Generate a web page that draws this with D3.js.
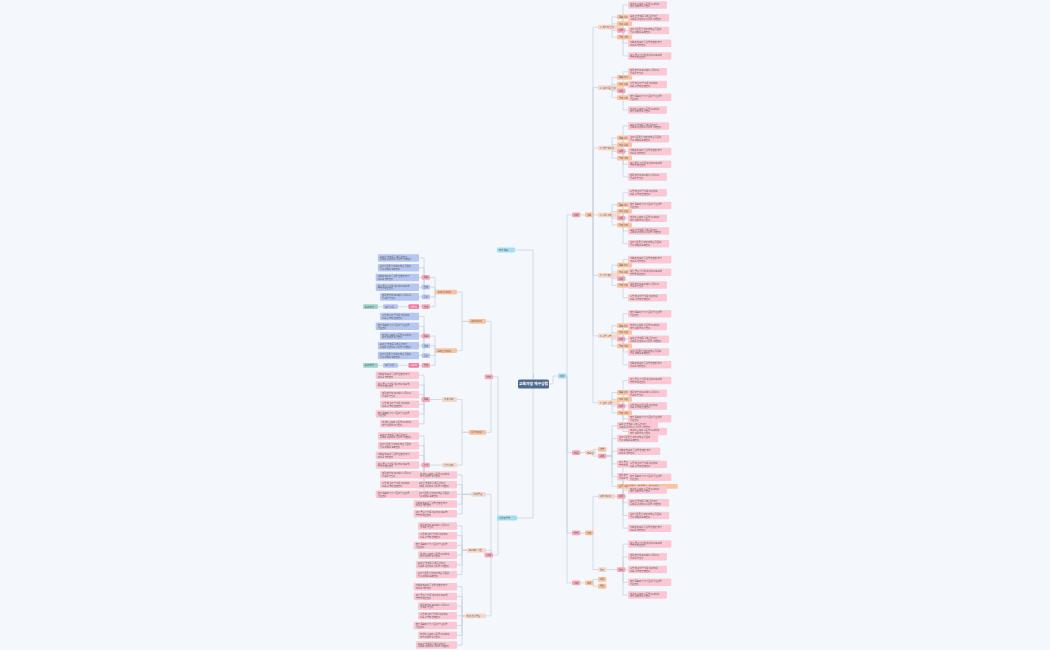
<!DOCTYPE html><html><head><meta charset="utf-8">
<script src="https://cdn.jsdelivr.net/npm/d3@7"></script>
<style>body{margin:0;background:#f4f8fc}svg{display:block}</style></head><body>
<svg id="c" width="1050" height="650"></svg>
<script>
const rootLabel = "교육과정 재구성법";
const sectionsA = ["1. 학습자 분석","2. 성취기준 분석","3. 개념 재구성","4. 활동 설계","5. 평가 계획","6. 수업 실행","7. 성찰·환류"];
const tagsTop = ["목표 설정","자료 수집"];
const tagsBottom = ["결과 정리"];
const longTexts = [
 "학생의 흥미와 수준을 고려하여 학습 내용을 조정한다",
 "교과 간 연계를 통해 통합적인 주제를 구성하고 활동을 설계한다",
 "성취기준을 분석하여 핵심 질문과 탐구 과제를 도출한다",
 "지역과 학교의 특성을 반영한 학습 자료를 개발한다",
 "과정 중심 평가를 계획하고 피드백 방법을 마련한다",
 "협력 학습과 프로젝트 활동으로 참여를 높인다",
 "수업 후 성찰 일지를 작성하여 다음 수업에 반영한다",
 "학습 목표와 평가 기준의 일관성을 점검한다"
];
const leftGroups1 = ["교과 내 재구성","교과 간 재구성"];
const leftGroups2 = ["주제 중심","프로젝트 기반","학생 선택 중심"];
const blueTags = ["연계","통합","확장"];
const viewTags = ["교사 전문성","학생 중심","학교 자율"];
const counts=[5,4,5,5,4,5,5];

function N(label,type,children){return {label,type,children:children||[]};}
let k=0; const lt=()=>longTexts[(k++)%longTexts.length];
function section(name,n){
  return N(name,"sec",[...tagsTop.map(t=>N(t,"o")),
    N("내용","p",d3.range(n).map(()=>N(lt(),"pl"))),
    ...tagsBottom.map(t=>N(t,"o"))]);
}
const right = N("대상","l",[
  N("이해","p",[N("개요","o",sectionsA.map((s,i)=>section(s,counts[i])))]),
  N("필요","p",[N("필요성","sec",[N("개념","o"),N("내용","p",[...d3.range(5).map(()=>N(lt(),"pl")),N("관점: "+viewTags.join(" · "),"o")])])]),
  N("방법","p",[N("유형","o",[N("내용 재구성","sec",[N("내용","p",d3.range(6).map(()=>N(lt(),"pl")))]),
     N("절차","sec",[N("절차","p",d3.range(5).map(()=>N(lt(),"pl")))])])]),
  N("사례","p",[N("적용","o",[N("초등","o"),N("중등","o")])])
]);
function leftSec(name,n,tags){
  return N(name,"o",[N("목표","p",d3.range(n).map(()=>N(lt(),"b"))),
     ...tags.map(t=>N(t,"b")),N("연계","p",[N("활동지","m",[N("모둠 활동","b",[N("토의 학습","t")])])])]);
}
const left = N("기술과 방법","l",[
  N("방법","p",[N("교과 재구성","o",leftGroups1.map(g=>leftSec(g,5,blueTags.slice(0,2)))),
     N("통합 재구성","o",[N("설계 사례","sec",[N("목표","p",d3.range(6).map(()=>N(lt(),"pl")))]),N("평가 사례","sec",[N("평가","p",d3.range(7).map(()=>N(lt(),"pl")))])])]),
  N("사례","p",leftGroups2.map((g,i)=>N(g,"sec",d3.range(5+i).map(()=>N(lt(),"pl")))))
]);
const topLeft = N("학습 목표","l");

const fill={l:"#a6dcef",p:"#f7a8b8",o:"#f9c3a0",sec:"#f6d8c8",pl:"#fbc7d2",b:"#b6c6f0",t:"#9fd3cb",m:"#f27aa6"};
const svg=d3.select("#c");
const gL=svg.append("g"), gN=svg.append("g");
const FS=2.3;
function wrap(t,max){const w=t.split(" ");const lines=[];let c="";for(const x of w){if((c+" "+x).trim().length>max){lines.push(c);c=x}else c=(c+" "+x).trim()}if(c)lines.push(c);return lines;}
function linesOf(dt){const isLong=dt.type==="pl"||(dt.type==="b"&&dt.label.length>12);return isLong?wrap(dt.label,18):[dt.label];}
function layout(data,y0,y1,cols,dir){
  const h=d3.hierarchy(data);
  d3.tree().nodeSize([1,1]).separation((a,b)=>{
    const base=((linesOf(a.data).length+linesOf(b.data).length)/2)*0.75;
    return base+(a.parent===b.parent?0.1:0.5);})(h);
  const ext=d3.extent(h.descendants(),d=>d.x);
  const ys=d3.scaleLinear().domain(ext).range([y0,y1]);
  h.each(d=>{
    d.lines=linesOf(d.data);
    d.w=Math.max(...d.lines.map(l=>l.length))*FS*0.95+4; d.h=d.lines.length*FS*1.2+2;
    d.py=ys(d.x); d.anchor=cols[Math.min(d.depth,cols.length-1)];
    d.x0=dir>0?d.anchor:d.anchor-d.w; d.x1=d.x0+d.w;
  });
  return h;
}
function box(d){
  gN.append("rect").attr("x",d.x0).attr("y",d.py-d.h/2).attr("width",d.w).attr("height",d.h).attr("rx",1).attr("fill",fill[d.data.type]);
  d.lines.forEach((l,i)=>gN.append("text").attr("x",d.x0+2).attr("y",d.py-d.h/2+1+FS*(i+0.85)*1.2).attr("font-size",FS).attr("font-family","Noto Sans CJK KR").attr("fill",d.data.type==="m"?"#fff":"#555").text(l));
}
function link(px,py,cx,cy,dir){
  const mx=dir>0?cx-5:cx+5;
  gL.append("path").attr("d",`M${px},${py}H${mx}V${cy}H${cx}`).attr("fill","none").attr("stroke","#c9d3df").attr("stroke-width",0.8);
}
const rootX=518,rootY=384,rootW=31;
const R=layout(N("","x",[right]),5,595,[rootX+rootW,558,572,585,598,617,628,650],1);
R.py=rootY; R.x1=rootX+rootW; R.x0=rootX;
R.children[0].py=376;
R.descendants().forEach(d=>{ if(!d.parent) return; link(d.parent.x1,d.parent.py,d.x0,d.py,1); box(d); });

const L=layout(N("","x",[N("","x",[topLeft,left])]),258,645,[0,0,505,493,486,457,430,419,398,378],-1);
const lv1=L.children[0];
lv1.children.forEach((c,i)=>{ c.py=i===0?250:518; c.x0=497; c.w=c.w+3; c.x1=c.x0+c.w;
  gL.append("path").attr("d",`M${rootX+rootW/2},${rootY-4.5}V${rootY-10}H${533}V${c.py}H${c.x1}`).attr("fill","none").attr("stroke","#c9d3df").attr("stroke-width",0.8);
  box(c);
});
const lc=lv1.children[1];
lc.descendants().forEach(d=>{ if(d===lc) return;
  const p=d.parent; link(p.x0,p.py,d.x1,d.py,-1); box(d);
});
gN.append("rect").attr("x",rootX).attr("y",rootY-4.5).attr("width",rootW).attr("height",9).attr("rx",1.5).attr("fill","#4f6b8e");
gN.append("text").attr("x",rootX+rootW/2).attr("y",rootY+1.3).attr("text-anchor","middle").attr("font-size",3.8).attr("font-weight","bold").attr("font-family","Noto Sans CJK KR").attr("fill","#fff").text(rootLabel);
</script></body></html>
